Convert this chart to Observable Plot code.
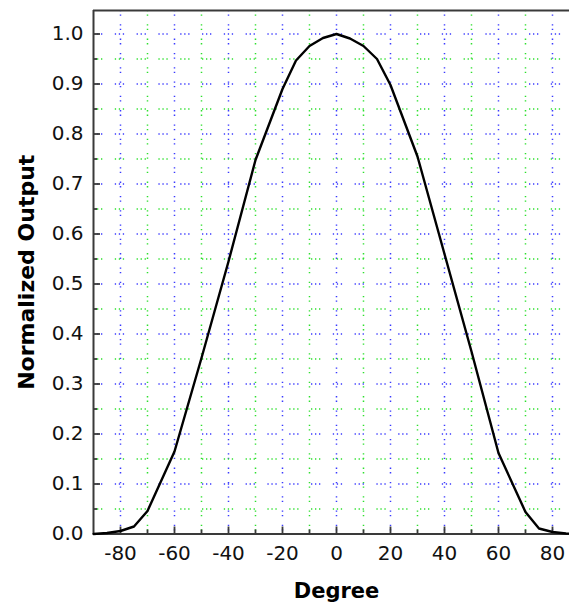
<!DOCTYPE html>
<html>
<head>
<meta charset="utf-8">
<script src="https://cdn.jsdelivr.net/npm/d3@7"></script>
<script src="https://cdn.jsdelivr.net/npm/@observablehq/plot@0.6"></script>
<style>
  html, body { margin: 0; padding: 0; background: #fff; overflow: hidden; }
</style>
</head>
<body>
<div id="chart"></div>
<script>
// Curve data
const degrees = [-90, -85, -80, -75, -70, -60, -50, -40, -30, -20, -15, -10, -5, 0, 5, 10, 15, 20, 30, 40, 50, 60, 70, 75, 80, 85, 90];
const outputs = [0.000, 0.002, 0.006, 0.015, 0.046, 0.165, 0.352, 0.545, 0.748, 0.890, 0.947, 0.976, 0.992, 1.000, 0.991, 0.976, 0.950, 0.898, 0.755, 0.560, 0.365, 0.162, 0.044, 0.011, 0.004, 0.001, 0.000];

// Axis ticks and grid positions
const xMajorTicks = [-80, -60, -40, -20, 0, 20, 40, 60, 80];
const xMinorTicks = [-70, -50, -30, -10, 10, 30, 50, 70];
const yMajorTicks = [0.0, 0.1, 0.2, 0.3, 0.4, 0.5, 0.6, 0.7, 0.8, 0.9, 1.0];
const yMinorTicks = [0.05, 0.15, 0.25, 0.35, 0.45, 0.55, 0.65, 0.75, 0.85, 0.95];
const yGridMajor = [0.1, 0.2, 0.3, 0.4, 0.5, 0.6, 0.7, 0.8, 0.9, 1.0];
const xDomain = [-90, 86.3];
const yDomain = [0, 1.047];
const xTitle = "Degree";
const yTitle = "Normalized Output";

const data = degrees.map((d, i) => ({deg: d, v: outputs[i]}));

const blue = "#3a3aff";
const green = "#2ee02e";
const axisColor = "#3a3a3a";
const font = "'DejaVu Sans', Verdana, sans-serif";

const chart = Plot.plot({
  width: 569,
  height: 614,
  marginLeft: 93,
  marginRight: 0,
  marginTop: 10,
  marginBottom: 80.5,
  style: {fontFamily: font, fontSize: "20px", color: "#111", background: "#fff"},
  x: {domain: xDomain, label: null},
  y: {domain: yDomain, label: null},
  marks: [
    // grid
    Plot.ruleX(xMinorTicks, {stroke: green, strokeWidth: 1.5, strokeDasharray: "1.3,3.2,1.3,8.5"}),
    Plot.ruleX(xMajorTicks, {stroke: blue, strokeWidth: 1.5, strokeDasharray: "1.3,3.2,1.3,8.5"}),
    Plot.ruleY(yMinorTicks, {stroke: green, strokeWidth: 1.5, strokeDasharray: "1.3,2.7,1.3,2.7,1.3,12.5"}),
    Plot.ruleY(yGridMajor, {stroke: blue, strokeWidth: 1.5, strokeDasharray: "1.3,2.7,1.3,2.7,1.3,12.5"}),
    // frame lines (left, top, bottom)
    Plot.ruleX([xDomain[0]], {stroke: axisColor, strokeWidth: 2}),
    Plot.ruleY([yDomain[1]], {stroke: axisColor, strokeWidth: 2}),
    Plot.ruleY([yDomain[0]], {stroke: axisColor, strokeWidth: 2}),
    // inward tick marks
    Plot.axisX({ticks: xMajorTicks, tickSize: -7, text: null, label: null, stroke: axisColor, strokeWidth: 1.8}),
    Plot.axisX({ticks: xMinorTicks, tickSize: -4, text: null, label: null, stroke: axisColor, strokeWidth: 1.8}),
    Plot.axisY({ticks: yMajorTicks, tickSize: -7, text: null, label: null, stroke: axisColor, strokeWidth: 1.8}),
    Plot.axisY({ticks: yMinorTicks, tickSize: -4, text: null, label: null, stroke: axisColor, strokeWidth: 1.8}),
    // tick labels
    Plot.axisX({ticks: xMajorTicks, tickSize: 0, tickPadding: 12, label: null, fontSize: 20, tickFormat: d => String(d).replace("−", "-"), fill: "#111"}),
    Plot.axisY({ticks: yMajorTicks, tickSize: 0, tickPadding: 10, label: null, fontSize: 20, tickFormat: d => d.toFixed(1), fill: "#111"}),
    // curve
    Plot.line(data, {x: "deg", y: "v", stroke: "#000", strokeWidth: 2.4, curve: "linear"}),
    // axis titles
    Plot.text([xTitle], {frameAnchor: "bottom", dx: 5, dy: 64, text: d => d, fontWeight: "bold", fontSize: 21, fill: "#000"}),
    Plot.text([yTitle], {frameAnchor: "left", textAnchor: "middle", dx: -67, rotate: -90, text: d => d, fontWeight: "bold", fontSize: 22, fill: "#000"})
  ]
});
document.getElementById("chart").appendChild(chart);
</script>
</body>
</html>
